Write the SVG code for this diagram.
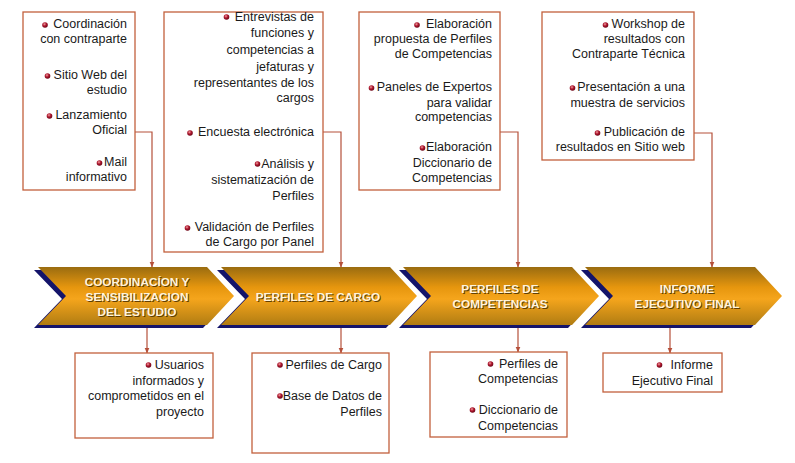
<svg xmlns="http://www.w3.org/2000/svg" width="795" height="463" viewBox="0 0 795 463">
<defs>
<style>
.box{fill:#fff;stroke:#c2603c;stroke-width:1.3}
.t{font-family:"Liberation Sans",Arial,sans-serif;font-size:12.5px;fill:#1a1a1a;text-anchor:end}
.ct{font-family:"Liberation Sans",Arial,sans-serif;font-size:11.8px;font-weight:bold;text-anchor:middle}
.sh{fill:#4a3000;opacity:0.85}
.wt{fill:#fff4dc}
.con{fill:none;stroke:#b5503a;stroke-width:1.2}
.navy{fill:#14146a}
.gold{fill:url(#g)}
.b{fill:url(#bul)}
</style>
<linearGradient id="g" x1="0" y1="0" x2="0" y2="1">
<stop offset="0" stop-color="#9a6c10"/>
<stop offset="0.35" stop-color="#e6960e"/>
<stop offset="0.55" stop-color="#f5a51c"/>
<stop offset="1" stop-color="#b07c12"/>
</linearGradient>
<radialGradient id="bul" cx="0.4" cy="0.35" r="0.7">
<stop offset="0" stop-color="#f0a0a0"/>
<stop offset="0.45" stop-color="#b01830"/>
<stop offset="1" stop-color="#600010"/>
</radialGradient>
<marker id="arr" markerWidth="6" markerHeight="6" refX="5.5" refY="3" orient="auto" markerUnits="userSpaceOnUse" viewBox="0 0 6 6">
<path d="M0,0.5 L6,3 L0,5.5 Z" fill="#b5503a"/>
</marker>
</defs>
<rect width="795" height="463" fill="#fff"/>

<g id="connectors">
<polyline class="con" points="135,132 152,132 152,267" marker-end="url(#arr)"/>
<polyline class="con" points="323,132 341,132 341,267" marker-end="url(#arr)"/>
<polyline class="con" points="500,132 518,132 518,267" marker-end="url(#arr)"/>
<polyline class="con" points="694,133 712,133 712,267" marker-end="url(#arr)"/>
<line class="con" x1="147" y1="328" x2="147" y2="353" marker-end="url(#arr)"/>
<line class="con" x1="341" y1="328" x2="341" y2="353" marker-end="url(#arr)"/>
<line class="con" x1="518" y1="328" x2="518" y2="352" marker-end="url(#arr)"/>
<line class="con" x1="670" y1="328" x2="670" y2="353" marker-end="url(#arr)"/>
</g>

<g id="top1">
<rect class="box" x="23" y="12" width="112" height="178"/>
<circle class="b" cx="45" cy="25" r="2.8"/>
<circle class="b" cx="47.5" cy="76" r="2.8"/>
<circle class="b" cx="49.5" cy="116" r="2.8"/>
<circle class="b" cx="99.5" cy="163" r="2.8"/>
<text class="t" x="127" y="28">Coordinación</text>
<text class="t" x="127" y="43">con contraparte</text>
<text class="t" x="127" y="79">Sitio Web del</text>
<text class="t" x="127" y="94">estudio</text>
<text class="t" x="127" y="119">Lanzamiento</text>
<text class="t" x="127" y="134">Oficial</text>
<text class="t" x="127" y="166">Mail</text>
<text class="t" x="127" y="181">informativo</text>
</g>

<g id="top2">
<rect class="box" x="164" y="12" width="159" height="240"/>
<circle class="b" cx="226.5" cy="17" r="2.8"/>
<circle class="b" cx="190" cy="133" r="2.8"/>
<circle class="b" cx="257.5" cy="164" r="2.8"/>
<circle class="b" cx="187.5" cy="228" r="2.8"/>
<text class="t" x="314" y="21">Entrevistas de</text>
<text class="t" x="314" y="37">funciones y</text>
<text class="t" x="314" y="54">competencias a</text>
<text class="t" x="314" y="71">jefaturas y</text>
<text class="t" x="314" y="87">representantes de los</text>
<text class="t" x="314" y="102">cargos</text>
<text class="t" x="314" y="136">Encuesta electrónica</text>
<text class="t" x="314" y="168">Análisis y</text>
<text class="t" x="314" y="184">sistematización de</text>
<text class="t" x="314" y="200">Perfiles</text>
<text class="t" x="314" y="231">Validación de Perfiles</text>
<text class="t" x="314" y="246">de Cargo por Panel</text>
</g>

<g id="top3">
<rect class="box" x="359" y="12" width="141" height="178"/>
<circle class="b" cx="417" cy="25" r="2.8"/>
<circle class="b" cx="371.5" cy="88" r="2.8"/>
<circle class="b" cx="422.5" cy="148" r="2.8"/>
<text class="t" x="492" y="28">Elaboración</text>
<text class="t" x="492" y="43">propuesta de Perfiles</text>
<text class="t" x="492" y="58">de Competencias</text>
<text class="t" x="492" y="91">Paneles de Expertos</text>
<text class="t" x="492" y="107">para validar</text>
<text class="t" x="492" y="121">competencias</text>
<text class="t" x="492" y="151">Elaboración</text>
<text class="t" x="492" y="167">Diccionario de</text>
<text class="t" x="492" y="182">Competencias</text>
</g>

<g id="top4">
<rect class="box" x="542" y="12" width="152" height="148"/>
<circle class="b" cx="605.5" cy="25" r="2.8"/>
<circle class="b" cx="572.5" cy="88" r="2.8"/>
<circle class="b" cx="597.5" cy="133" r="2.8"/>
<text class="t" x="685" y="28">Workshop de</text>
<text class="t" x="685" y="43">resultados con</text>
<text class="t" x="685" y="58">Contraparte Técnica</text>
<text class="t" x="685" y="91">Presentación a una</text>
<text class="t" x="685" y="107">muestra de servicios</text>
<text class="t" x="685" y="136">Publicación de</text>
<text class="t" x="685" y="151">resultados en Sitio web</text>
</g>

<g id="chev1">
<polygon class="navy" points="34,270 203,270 230,299 203,328 34,328 62,299"/>
<polygon class="gold" points="38,267 207,267 234,296 207,325 38,325 66,296"/>
<g class="ct">
<text class="sh" x="138" y="287">COORDINACÍON Y</text>
<text class="sh" x="138" y="302">SENSIBILIZACION</text>
<text class="sh" x="138" y="317">DEL ESTUDIO</text>
<text class="wt" x="137" y="286">COORDINACÍON Y</text>
<text class="wt" x="137" y="301">SENSIBILIZACION</text>
<text class="wt" x="137" y="316">DEL ESTUDIO</text>
</g>
</g>

<g id="chev2">
<polygon class="navy" points="217,270 386,270 413,299 386,328 217,328 245,299"/>
<polygon class="gold" points="221,267 390,267 417,296 390,325 221,325 249,296"/>
<g class="ct">
<text class="sh" x="319" y="302">PERFILES DE CARGO</text>
<text class="wt" x="318" y="301">PERFILES DE CARGO</text>
</g>
</g>

<g id="chev3">
<polygon class="navy" points="399,270 568,270 595,299 568,328 399,328 427,299"/>
<polygon class="gold" points="403,267 572,267 599,296 572,325 403,325 431,296"/>
<g class="ct">
<text class="sh" x="501" y="294">PERFILES DE</text>
<text class="sh" x="501" y="309">COMPETENCIAS</text>
<text class="wt" x="500" y="293">PERFILES DE</text>
<text class="wt" x="500" y="308">COMPETENCIAS</text>
</g>
</g>

<g id="chev4">
<polygon class="navy" points="581,270 751,270 778,299 751,328 581,328 609,299"/>
<polygon class="gold" points="585,267 755,267 782,296 755,325 585,325 613,296"/>
<g class="ct">
<text class="sh" x="688" y="294">INFORME</text>
<text class="sh" x="688" y="309">EJECUTIVO FINAL</text>
<text class="wt" x="687" y="293">INFORME</text>
<text class="wt" x="687" y="308">EJECUTIVO FINAL</text>
</g>
</g>

<g id="bot1">
<rect class="box" x="75" y="353" width="138" height="85"/>
<circle class="b" cx="148.5" cy="365" r="2.8"/>
<text class="t" x="204" y="369">Usuarios</text>
<text class="t" x="204" y="385">informados y</text>
<text class="t" x="204" y="400">comprometidos en el</text>
<text class="t" x="204" y="416">proyecto</text>
</g>

<g id="bot2">
<rect class="box" x="252" y="353" width="137" height="100"/>
<circle class="b" cx="280" cy="365" r="2.8"/>
<circle class="b" cx="280" cy="396" r="2.8"/>
<text class="t" x="382" y="369">Perfiles de Cargo</text>
<text class="t" x="382" y="400">Base de Datos de</text>
<text class="t" x="382" y="416">Perfiles</text>
</g>

<g id="bot3">
<rect class="box" x="430" y="352" width="137" height="85"/>
<circle class="b" cx="490.5" cy="364" r="2.8"/>
<circle class="b" cx="472.5" cy="410" r="2.8"/>
<text class="t" x="558" y="368">Perfiles de</text>
<text class="t" x="558" y="383">Competencias</text>
<text class="t" x="558" y="414">Diccionario de</text>
<text class="t" x="558" y="430">Competencias</text>
</g>

<g id="bot4">
<rect class="box" x="603" y="353" width="119" height="39"/>
<circle class="b" cx="659.5" cy="365" r="2.8"/>
<text class="t" x="713" y="369">Informe</text>
<text class="t" x="713" y="385">Ejecutivo Final</text>
</g>
</svg>
